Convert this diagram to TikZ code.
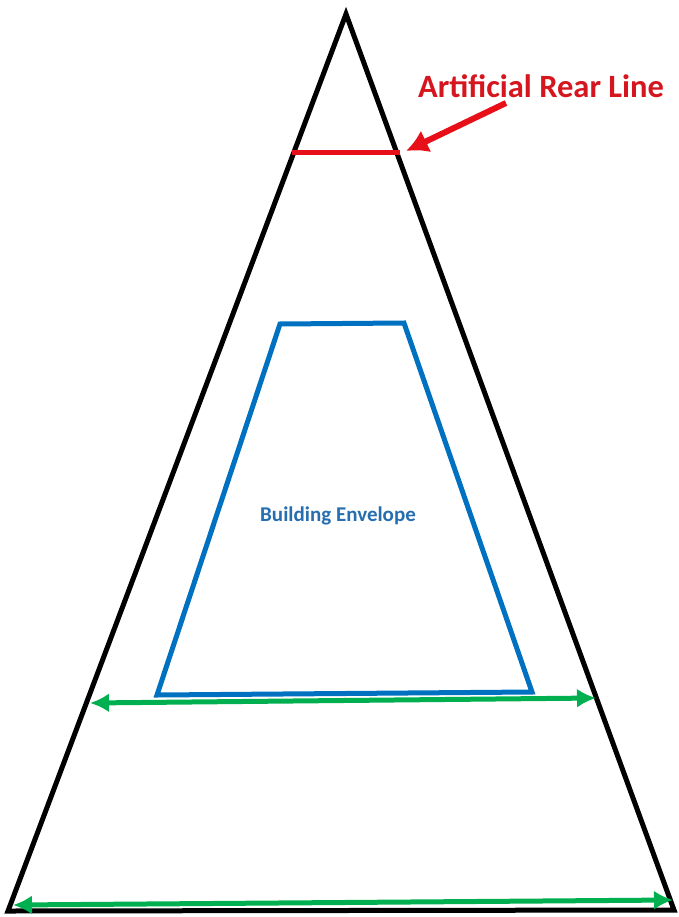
\documentclass[tikz,border=0pt]{standalone}
\usepackage{fontspec}
\setmainfont{Carlito}
\usetikzlibrary{arrows.meta}
\definecolor{rearred}{RGB}{232,16,24}
\definecolor{labelred}{RGB}{214,22,30}
\definecolor{envblue}{RGB}{0,112,192}
\definecolor{textblue}{RGB}{38,110,175}
\definecolor{widthgreen}{RGB}{0,176,80}
\begin{document}
\begin{tikzpicture}[x=1pt,y=-1pt,
  lot/.style={line width=5pt,line join=miter},
  dim/.style={widthgreen,line width=5pt,{Latex[length=19pt,width=19pt]}-{Latex[length=19pt,width=19pt]}}]
\useasboundingbox (0,0) rectangle (679,917);
\coordinate (apex) at (346,14);
\coordinate (baseL) at (8,911);
\coordinate (baseR) at (674,910);
\draw[lot] (apex) -- (baseR) -- (baseL) -- cycle;
\coordinate (rearL) at (292,153);
\coordinate (rearR) at (400,153);
\draw[rearred,line width=5pt] (rearL) -- (rearR);
\node[labelred,font=\bfseries\fontsize{32.5}{36}\selectfont] (rearlabel) at (541,86) {Artificial Rear Line};
\coordinate (rearTail) at (506,103);
\coordinate (rearTip) at (406,151);
\draw[rearred,line width=6pt,-{Latex[length=22pt,width=24pt]}] (rearTail) -- (rearTip);
\coordinate (envA) at (280,324);
\coordinate (envB) at (404,323);
\coordinate (envC) at (532,692);
\coordinate (envD) at (157,695);
\draw[envblue,line width=5pt,line join=miter] (envA) -- (envB) -- (envC) -- (envD) -- cycle;
\node[textblue,font=\bfseries\fontsize{21}{25}\selectfont] (envlabel) at (338,516) {Building Envelope};
\coordinate (frontL) at (90,703);
\coordinate (frontR) at (596,698);
\draw[dim] (frontL) -- (frontR);
\coordinate (streetL) at (13,905);
\coordinate (streetR) at (673,900);
\draw[dim] (streetL) -- (streetR);
\end{tikzpicture}
\end{document}
